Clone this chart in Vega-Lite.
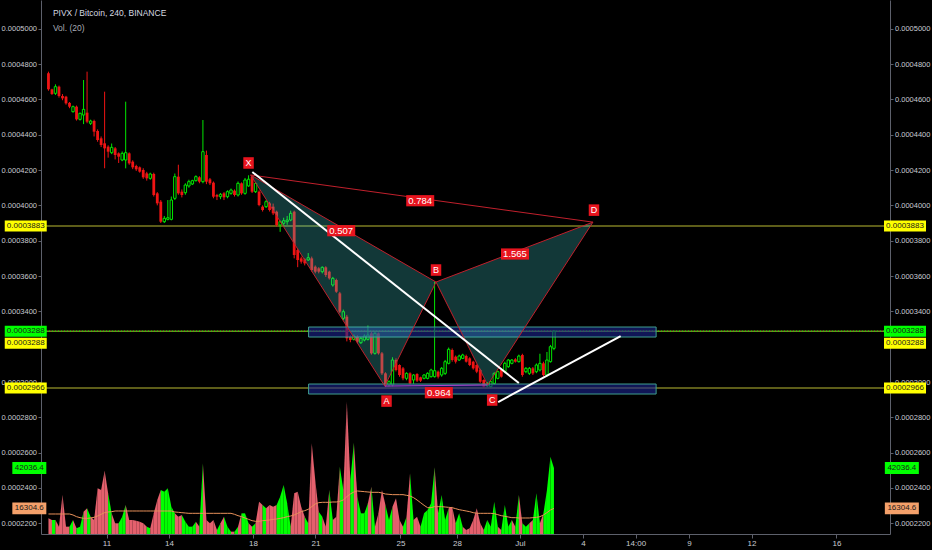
{
"$schema":"https://vega.github.io/schema/vega-lite/v6.json",
"width":849,"height":534,
"autosize":{"type":"none"},
"padding":{"left":41,"right":42,"top":0,"bottom":16},
"background":"#000000",
"config":{"view":{"stroke":null},"font":"Liberation Sans"},
"datasets":{
"candles":[
{"i":0,"o":47473,"h":47568,"l":46490,"c":46567,"v":9978,"ma":12738},
{"i":1,"o":46567,"h":46600,"l":46250,"c":46303,"v":8917,"ma":12738},
{"i":2,"o":46341,"h":46850,"l":46250,"c":46718,"v":8917,"ma":12738},
{"i":3,"o":46718,"h":46780,"l":46100,"c":46190,"v":4671,"ma":12738},
{"i":4,"o":46190,"h":46300,"l":45950,"c":46058,"v":24839,"ma":12738},
{"i":5,"o":46152,"h":46200,"l":45700,"c":45775,"v":4671,"ma":12738},
{"i":6,"o":45800,"h":45850,"l":45500,"c":45586,"v":4671,"ma":12738},
{"i":7,"o":45303,"h":45650,"l":45250,"c":45586,"v":8917,"ma":12101},
{"i":8,"o":45586,"h":45650,"l":44800,"c":44869,"v":3609,"ma":11040},
{"i":9,"o":44869,"h":45250,"l":44800,"c":45209,"v":4671,"ma":10403},
{"i":10,"o":45114,"h":47096,"l":44600,"c":45435,"v":14224,"ma":9978},
{"i":11,"o":45247,"h":47568,"l":44650,"c":44737,"v":16347,"ma":9978},
{"i":12,"o":44643,"h":44850,"l":44550,"c":44775,"v":11040,"ma":10190},
{"i":13,"o":44775,"h":44850,"l":43900,"c":44171,"v":8917,"ma":10615},
{"i":14,"o":44209,"h":44300,"l":43600,"c":43699,"v":29085,"ma":11464},
{"i":15,"o":43794,"h":43900,"l":43300,"c":43416,"v":28024,"ma":12526},
{"i":16,"o":43511,"h":46435,"l":42100,"c":43227,"v":40337,"ma":13587},
{"i":17,"o":43322,"h":43400,"l":42700,"c":43039,"v":25901,"ma":14012},
{"i":18,"o":42982,"h":43500,"l":42900,"c":43284,"v":13163,"ma":14224},
{"i":19,"o":43227,"h":43300,"l":42600,"c":42850,"v":6794,"ma":14649},
{"i":20,"o":42944,"h":43000,"l":42400,"c":42756,"v":6794,"ma":14649},
{"i":21,"o":42567,"h":43050,"l":42500,"c":42944,"v":11040,"ma":14649},
{"i":22,"o":42567,"h":45869,"l":42095,"c":42982,"v":18470,"ma":14649},
{"i":23,"o":42944,"h":43000,"l":42300,"c":42378,"v":8917,"ma":14649},
{"i":24,"o":42473,"h":42550,"l":42050,"c":42152,"v":8917,"ma":14649},
{"i":25,"o":42227,"h":42300,"l":41950,"c":42039,"v":8492,"ma":14649},
{"i":26,"o":42152,"h":42200,"l":41850,"c":41907,"v":7855,"ma":14649},
{"i":27,"o":42001,"h":42100,"l":41500,"c":41586,"v":6794,"ma":14649},
{"i":28,"o":41812,"h":41900,"l":41400,"c":41529,"v":4671,"ma":14649},
{"i":29,"o":41529,"h":41850,"l":41450,"c":41774,"v":3609,"ma":14649},
{"i":30,"o":41774,"h":41850,"l":40500,"c":40586,"v":13163,"ma":14649},
{"i":31,"o":40680,"h":40750,"l":40000,"c":40114,"v":21655,"ma":14649},
{"i":32,"o":40208,"h":40300,"l":39000,"c":39076,"v":28024,"ma":14649},
{"i":33,"o":39076,"h":39400,"l":39000,"c":39265,"v":26962,"ma":14649},
{"i":34,"o":39208,"h":40300,"l":39150,"c":39300,"v":29085,"ma":14649},
{"i":35,"o":39208,"h":40500,"l":39150,"c":40303,"v":17409,"ma":14649},
{"i":36,"o":40397,"h":41800,"l":40300,"c":41624,"v":13163,"ma":14012},
{"i":37,"o":41624,"h":42300,"l":40600,"c":40680,"v":11040,"ma":13800},
{"i":38,"o":40774,"h":40900,"l":40450,"c":40586,"v":12101,"ma":13587},
{"i":39,"o":40718,"h":41250,"l":40600,"c":41152,"v":7855,"ma":13375},
{"i":40,"o":41095,"h":41450,"l":41000,"c":41341,"v":4671,"ma":13163},
{"i":41,"o":41209,"h":41450,"l":41150,"c":41397,"v":4671,"ma":13163},
{"i":42,"o":41397,"h":41700,"l":41350,"c":41624,"v":7855,"ma":13163},
{"i":43,"o":41586,"h":41650,"l":41250,"c":41341,"v":4671,"ma":13163},
{"i":44,"o":41341,"h":44831,"l":41250,"c":43039,"v":45008,"ma":13163},
{"i":45,"o":42850,"h":43100,"l":41200,"c":41341,"v":8917,"ma":13163},
{"i":46,"o":41473,"h":41550,"l":41150,"c":41247,"v":6794,"ma":13163},
{"i":47,"o":41284,"h":41350,"l":40400,"c":40491,"v":8917,"ma":13163},
{"i":48,"o":40586,"h":40650,"l":40300,"c":40491,"v":2548,"ma":13163},
{"i":49,"o":40491,"h":40700,"l":40350,"c":40623,"v":6794,"ma":13163},
{"i":50,"o":40680,"h":40750,"l":40300,"c":40454,"v":11040,"ma":13163},
{"i":51,"o":40491,"h":40850,"l":40400,"c":40774,"v":4671,"ma":13163},
{"i":52,"o":40680,"h":40950,"l":40600,"c":40869,"v":1486,"ma":13163},
{"i":53,"o":40830,"h":40900,"l":40500,"c":40586,"v":1486,"ma":12526},
{"i":54,"o":40586,"h":41350,"l":40500,"c":41247,"v":4671,"ma":11677},
{"i":55,"o":41247,"h":41300,"l":40600,"c":40680,"v":13163,"ma":11040},
{"i":56,"o":40680,"h":41550,"l":40600,"c":41435,"v":13163,"ma":10190},
{"i":57,"o":41100,"h":41700,"l":41050,"c":41480,"v":6794,"ma":9341},
{"i":58,"o":41624,"h":41720,"l":40700,"c":40774,"v":4671,"ma":8492},
{"i":59,"o":40774,"h":41300,"l":40700,"c":41246,"v":6794,"ma":8067},
{"i":60,"o":40774,"h":40850,"l":39950,"c":40019,"v":20593,"ma":8067},
{"i":61,"o":39925,"h":40000,"l":39650,"c":39737,"v":18470,"ma":8492},
{"i":62,"o":39925,"h":40300,"l":39850,"c":40208,"v":16347,"ma":8704},
{"i":63,"o":40114,"h":40200,"l":39650,"c":39737,"v":18470,"ma":8917},
{"i":64,"o":39925,"h":40100,"l":39450,"c":39548,"v":17409,"ma":9341},
{"i":65,"o":39642,"h":39700,"l":38800,"c":38887,"v":18470,"ma":9554},
{"i":66,"o":38887,"h":39150,"l":38500,"c":39076,"v":23778,"ma":9978},
{"i":67,"o":38982,"h":39300,"l":38800,"c":39133,"v":31208,"ma":10403},
{"i":68,"o":39076,"h":39400,"l":38900,"c":39170,"v":19532,"ma":11040},
{"i":69,"o":39170,"h":39700,"l":39100,"c":39548,"v":4671,"ma":11464},
{"i":70,"o":39642,"h":39700,"l":37000,"c":37189,"v":25901,"ma":12101},
{"i":71,"o":37472,"h":37550,"l":36500,"c":36906,"v":26962,"ma":13163},
{"i":72,"o":37000,"h":37100,"l":36700,"c":36812,"v":17409,"ma":14224},
{"i":73,"o":36944,"h":37000,"l":36600,"c":36717,"v":11040,"ma":14861},
{"i":74,"o":36906,"h":37300,"l":36850,"c":37038,"v":6794,"ma":15710},
{"i":75,"o":37000,"h":37100,"l":36250,"c":36340,"v":57746,"ma":17409},
{"i":76,"o":36529,"h":36600,"l":36150,"c":36246,"v":34393,"ma":19107},
{"i":77,"o":36434,"h":36500,"l":36150,"c":36246,"v":14224,"ma":19956},
{"i":78,"o":36246,"h":36550,"l":36150,"c":36491,"v":11040,"ma":20169},
{"i":79,"o":36491,"h":36550,"l":35950,"c":36057,"v":4671,"ma":20169},
{"i":80,"o":36246,"h":36300,"l":35800,"c":35868,"v":28024,"ma":20169},
{"i":81,"o":35491,"h":35950,"l":35400,"c":35868,"v":8917,"ma":20381},
{"i":82,"o":35774,"h":35850,"l":35050,"c":35113,"v":11040,"ma":20381},
{"i":83,"o":35019,"h":35100,"l":33900,"c":33981,"v":42885,"ma":20805},
{"i":84,"o":33604,"h":34100,"l":33500,"c":33981,"v":28024,"ma":21655},
{"i":85,"o":33698,"h":33800,"l":32300,"c":32471,"v":84283,"ma":23778},
{"i":86,"o":32566,"h":32650,"l":32250,"c":32377,"v":34393,"ma":25476},
{"i":87,"o":32415,"h":32700,"l":32350,"c":32604,"v":58170,"ma":26750},
{"i":88,"o":32566,"h":32650,"l":32200,"c":32283,"v":23778,"ma":27387},
{"i":89,"o":32226,"h":32550,"l":32150,"c":32471,"v":13163,"ma":27174},
{"i":90,"o":32377,"h":32700,"l":32300,"c":32604,"v":13163,"ma":26962},
{"i":91,"o":32415,"h":33200,"l":32350,"c":32660,"v":19532,"ma":26750},
{"i":92,"o":32754,"h":32850,"l":31550,"c":31622,"v":30147,"ma":26538},
{"i":93,"o":31622,"h":32850,"l":31550,"c":32754,"v":4671,"ma":26538},
{"i":94,"o":32754,"h":32800,"l":31550,"c":31622,"v":13163,"ma":26538},
{"i":95,"o":31622,"h":31700,"l":30400,"c":30490,"v":28024,"ma":26113},
{"i":96,"o":30490,"h":30550,"l":29700,"c":29773,"v":18470,"ma":25476},
{"i":97,"o":29830,"h":30100,"l":29750,"c":30018,"v":8917,"ma":25264},
{"i":98,"o":29830,"h":31400,"l":29750,"c":31245,"v":17409,"ma":25051},
{"i":99,"o":31245,"h":31340,"l":30600,"c":30679,"v":22716,"ma":25051},
{"i":100,"o":30962,"h":31000,"l":30300,"c":30396,"v":8917,"ma":25051},
{"i":101,"o":30773,"h":30850,"l":30100,"c":30207,"v":4671,"ma":25051},
{"i":102,"o":30207,"h":30550,"l":30100,"c":30490,"v":11040,"ma":24627},
{"i":103,"o":30490,"h":30550,"l":29850,"c":29924,"v":38639,"ma":24202},
{"i":104,"o":30113,"h":30450,"l":29900,"c":30396,"v":8917,"ma":23141},
{"i":105,"o":30452,"h":30500,"l":30000,"c":30075,"v":11040,"ma":21655},
{"i":106,"o":30264,"h":30300,"l":30000,"c":30075,"v":4671,"ma":19956},
{"i":107,"o":30207,"h":30450,"l":30150,"c":30396,"v":13163,"ma":18258},
{"i":108,"o":30207,"h":30550,"l":30150,"c":30490,"v":15286,"ma":16772},
{"i":109,"o":30302,"h":30750,"l":30250,"c":30679,"v":19532,"ma":16772},
{"i":110,"o":30302,"h":35679,"l":30250,"c":30640,"v":42460,"ma":17409},
{"i":111,"o":30585,"h":30650,"l":30200,"c":30302,"v":13163,"ma":17409},
{"i":112,"o":30396,"h":30850,"l":30300,"c":30773,"v":24839,"ma":17409},
{"i":113,"o":30490,"h":31250,"l":30400,"c":31151,"v":8917,"ma":17196},
{"i":114,"o":31056,"h":31950,"l":31000,"c":31849,"v":16347,"ma":16984},
{"i":115,"o":31811,"h":31900,"l":31150,"c":31245,"v":17409,"ma":16772},
{"i":116,"o":31434,"h":31500,"l":31050,"c":31151,"v":6794,"ma":16135},
{"i":117,"o":31245,"h":31550,"l":31200,"c":31471,"v":13163,"ma":15498},
{"i":118,"o":31339,"h":31600,"l":31300,"c":31528,"v":4671,"ma":15073},
{"i":119,"o":31471,"h":31550,"l":31100,"c":31151,"v":2548,"ma":14649},
{"i":120,"o":31339,"h":31400,"l":30900,"c":30962,"v":3609,"ma":14224},
{"i":121,"o":31151,"h":31200,"l":30700,"c":30773,"v":8917,"ma":13587},
{"i":122,"o":30962,"h":31000,"l":30500,"c":30585,"v":16347,"ma":13163},
{"i":123,"o":30679,"h":30750,"l":29950,"c":30018,"v":6794,"ma":13163},
{"i":124,"o":30113,"h":30150,"l":29650,"c":29735,"v":2548,"ma":13163},
{"i":125,"o":29780,"h":30000,"l":29700,"c":29924,"v":8917,"ma":13163},
{"i":126,"o":29735,"h":30100,"l":29700,"c":30018,"v":4671,"ma":13163},
{"i":127,"o":29924,"h":30550,"l":29850,"c":30490,"v":20593,"ma":12950},
{"i":128,"o":30207,"h":30650,"l":30150,"c":30585,"v":4671,"ma":12313},
{"i":129,"o":30679,"h":30750,"l":30250,"c":30302,"v":2548,"ma":11677},
{"i":130,"o":30585,"h":31150,"l":30500,"c":31056,"v":18470,"ma":11252},
{"i":131,"o":30868,"h":31300,"l":30800,"c":31245,"v":4671,"ma":10827},
{"i":132,"o":31056,"h":31300,"l":31000,"c":31245,"v":8917,"ma":10403},
{"i":133,"o":31283,"h":31350,"l":31100,"c":31151,"v":4671,"ma":10403},
{"i":134,"o":31151,"h":31550,"l":31100,"c":31471,"v":24839,"ma":10190},
{"i":135,"o":31528,"h":31600,"l":30300,"c":30396,"v":6794,"ma":10190},
{"i":136,"o":30585,"h":30850,"l":30500,"c":30773,"v":4671,"ma":10190},
{"i":137,"o":30490,"h":30850,"l":30400,"c":30773,"v":6794,"ma":10190},
{"i":138,"o":30773,"h":30850,"l":30400,"c":30490,"v":8917,"ma":10403},
{"i":139,"o":30585,"h":31050,"l":30500,"c":30962,"v":25901,"ma":10615},
{"i":140,"o":30679,"h":31600,"l":30600,"c":31056,"v":6794,"ma":11040},
{"i":141,"o":31056,"h":31150,"l":30300,"c":30396,"v":13163,"ma":12101},
{"i":142,"o":30396,"h":31700,"l":30300,"c":31245,"v":28024,"ma":13587},
{"i":143,"o":31151,"h":32100,"l":31100,"c":32000,"v":49254,"ma":15286},
{"i":144,"o":31905,"h":32900,"l":31800,"c":32880,"v":42036.4,"ma":16304.6}
],
"hlines":[{"p":38830},{"p":29660},{"p":32880}],
"boxes":[{"i":74.1,"i2":173.1,"p":33113,"p2":32547},{"i":74.1,"i2":173.1,"p":29886,"p2":29320}],
"poly":[
{"g":"XAB","k":0,"i":57.6,"p":41720},{"g":"XAB","k":1,"i":95.8,"p":29770},{"g":"XAB","k":2,"i":110.4,"p":35660},{"g":"XAB","k":3,"i":57.6,"p":41720},
{"g":"BCD","k":0,"i":110.4,"p":35660},{"g":"BCD","k":1,"i":125.1,"p":29830},{"g":"BCD","k":2,"i":155.1,"p":39050},{"g":"BCD","k":3,"i":110.4,"p":35660}
],
"legs":[{"g":"XD","k":0,"i":57.6,"p":41720},{"g":"XD","k":1,"i":155.1,"p":39050},{"g":"AC","k":0,"i":95.8,"p":29770},{"g":"AC","k":1,"i":125.1,"p":29830}],
"trend":[{"g":1,"i":58.07,"p":41888},{"g":1,"i":134.0,"p":29943},{"g":2,"i":128.1,"p":28868},{"g":2,"i":163.0,"p":32604}],
"points":[{"pt":"X","i":57.0,"p":41720,"pos":"up"},{"pt":"A","i":96.3,"p":29770,"pos":"dn"},{"pt":"B","i":110.4,"p":35660,"pos":"up"},{"pt":"C","i":126.4,"p":29830,"pos":"dn"},{"pt":"D","i":155.4,"p":39050,"pos":"up"}],
"ratios":[{"t":"0.507","i":83.4,"p":38565},{"t":"0.784","i":105.9,"p":40263},{"t":"1.565","i":132.9,"p":37246},{"t":"0.964","i":111.2,"p":29394}],
"ptags":[
{"i":-6.47,"p":38830,"t":"0.0003883","k":"y"},{"i":-6.47,"p":32880,"t":"0.0003288","k":"g"},{"i":-6.47,"p":32880,"t":"0.0003288","k":"y2"},{"i":-6.47,"p":29660,"t":"0.0002966","k":"y"},
{"i":244.0,"p":38830,"t":"0.0003883","k":"y"},{"i":244.0,"p":32880,"t":"0.0003288","k":"g"},{"i":244.0,"p":32880,"t":"0.0003288","k":"y2"},{"i":244.0,"p":29660,"t":"0.0002966","k":"y"}
],
"vtags":[{"i":-5.45,"v":42036.4,"t":"42036.4","k":"g"},{"i":-5.45,"v":16304.6,"t":"16304.6","k":"o"},{"i":243.1,"v":42036.4,"t":"42036.4","k":"g"},{"i":243.1,"v":16304.6,"t":"16304.6","k":"o"}],
"titles":[{"i":1.27,"p":50889,"t":"PIVX / Bitcoin, 240, BINANCE"},{"i":1.27,"p":50040,"t":"Vol. (20)"}]
},
"layer":[
{
"layer":[
{"data":{"name":"candles"},
"transform":[
{"window":[{"op":"lag","field":"i","as":"ip"},{"op":"lead","field":"o","as":"o2"},{"op":"lead","field":"c","as":"c2"}],"sort":[{"field":"i","order":"ascending"}]},
{"fold":["i","ip"],"as":["role","seg"]},
{"filter":"datum.seg != null"}
],
"mark":{"type":"area","opacity":1},
"encoding":{
"x":{"field":"i","type":"quantitative","scale":{"domain":[-0.7,238.3],"nice":false,"zero":false}},
"y":{"field":"v","type":"quantitative","stack":null,"scale":{"domain":[0,340000],"nice":false,"zero":false},"axis":null},
"detail":{"field":"seg","type":"nominal"},
"color":{"condition":{"test":"datum.role=='i' ? datum.c2>=datum.o2 : datum.c>=datum.o","value":"#00ff00"},"value":"#e4606d"}
}},
{"data":{"name":"candles"},
"mark":{"type":"line","color":"#e8915a","strokeWidth":1},
"encoding":{
"x":{"field":"i","type":"quantitative","scale":{"domain":[-0.7,238.3],"nice":false,"zero":false}},
"y":{"field":"ma","type":"quantitative","scale":{"domain":[0,340000],"nice":false,"zero":false},"axis":null}
}},
{"data":{"name":"vtags"},
"mark":{"type":"point","shape":"M-1,-0.35H1V0.35H-1Z","size":1156,"filled":true,"opacity":1,"strokeWidth":0},
"encoding":{
"x":{"field":"i","type":"quantitative","scale":{"domain":[-0.7,238.3],"nice":false,"zero":false}},
"y":{"field":"v","type":"quantitative","scale":{"domain":[0,340000],"nice":false,"zero":false},"axis":null},
"color":{"condition":{"test":"datum.k=='g'","value":"#00ff00"},"value":"#f4a06a"}
}},
{"data":{"name":"vtags"},
"mark":{"type":"text","fontSize":8,"color":"#1a1a1a","align":"center","baseline":"middle"},
"encoding":{
"x":{"field":"i","type":"quantitative","scale":{"domain":[-0.7,238.3],"nice":false,"zero":false}},
"y":{"field":"v","type":"quantitative","scale":{"domain":[0,340000],"nice":false,"zero":false},"axis":null},
"text":{"field":"t"}
}}
]
},
{
"layer":[
{"data":{"name":"hlines"},
"mark":{"type":"rule","color":"#7d7d22","strokeWidth":1.5},
"encoding":{
"y":{"field":"p","type":"quantitative","scale":{"domain":[21396,51625],"nice":false,"zero":false},"axis":null}
}},
{"data":{"values":[{"p":32880}]},
"mark":{"type":"rule","color":"#00ff00","strokeWidth":1,"strokeDash":[1,2]},
"encoding":{
"y":{"field":"p","type":"quantitative","scale":{"domain":[21396,51625],"nice":false,"zero":false},"axis":null}
}},
{"data":{"name":"candles"},
"mark":{"type":"rule","strokeWidth":1},
"encoding":{
"x":{"field":"i","type":"quantitative","scale":{"domain":[-0.7,238.3],"nice":false,"zero":false}},
"y":{"field":"l","type":"quantitative","scale":{"domain":[21396,51625],"nice":false,"zero":false},"axis":null},
"y2":{"field":"h"},
"color":{"condition":{"test":"datum.c>=datum.o","value":"#00e600"},"value":"#f01414"}
}},
{"data":{"name":"candles"},
"transform":[{"filter":"datum.c<datum.o"}],
"mark":{"type":"bar","width":2.8,"color":"#f01414"},
"encoding":{
"x":{"field":"i","type":"quantitative","scale":{"domain":[-0.7,238.3],"nice":false,"zero":false}},
"y":{"field":"o","type":"quantitative","scale":{"domain":[21396,51625],"nice":false,"zero":false},"axis":null},
"y2":{"field":"c"}
}},
{"data":{"name":"candles"},
"transform":[{"filter":"datum.c>=datum.o"}],
"mark":{"type":"bar","width":2.4,"fill":"#000000","stroke":"#00e600","strokeWidth":1},
"encoding":{
"x":{"field":"i","type":"quantitative","scale":{"domain":[-0.7,238.3],"nice":false,"zero":false}},
"y":{"field":"o","type":"quantitative","scale":{"domain":[21396,51625],"nice":false,"zero":false},"axis":null},
"y2":{"field":"c"}
}},
{"data":{"name":"boxes"},
"mark":{"type":"rect","fill":"#1a2590","fillOpacity":0.6,"stroke":"#3f9f8f","strokeWidth":1},
"encoding":{
"x":{"field":"i","type":"quantitative","scale":{"domain":[-0.7,238.3],"nice":false,"zero":false}},
"x2":{"field":"i2"},
"y":{"field":"p","type":"quantitative","scale":{"domain":[21396,51625],"nice":false,"zero":false},"axis":null},
"y2":{"field":"p2"}
}},
{"data":{"name":"poly"},
"mark":{"type":"line","fill":"#3fc8c8","fillOpacity":0.28,"stroke":"#c0202c","strokeWidth":1},
"encoding":{
"x":{"field":"i","type":"quantitative","scale":{"domain":[-0.7,238.3],"nice":false,"zero":false}},
"y":{"field":"p","type":"quantitative","scale":{"domain":[21396,51625],"nice":false,"zero":false},"axis":null},
"detail":{"field":"g","type":"nominal"},
"order":{"field":"k","type":"quantitative"}
}},
{"data":{"name":"legs"},
"mark":{"type":"line","strokeWidth":1},
"encoding":{
"x":{"field":"i","type":"quantitative","scale":{"domain":[-0.7,238.3],"nice":false,"zero":false}},
"y":{"field":"p","type":"quantitative","scale":{"domain":[21396,51625],"nice":false,"zero":false},"axis":null},
"color":{"field":"g","type":"nominal","scale":{"domain":["XD","AC"],"range":["#c0202c","#b048d0"]},"legend":null},
"order":{"field":"k","type":"quantitative"}
}},
{"data":{"name":"trend"},
"mark":{"type":"line","color":"#ffffff","strokeWidth":2},
"encoding":{
"x":{"field":"i","type":"quantitative","scale":{"domain":[-0.7,238.3],"nice":false,"zero":false}},
"y":{"field":"p","type":"quantitative","scale":{"domain":[21396,51625],"nice":false,"zero":false},"axis":null},
"detail":{"field":"g","type":"nominal"}
}},
{"data":{"name":"points"},
"transform":[{"filter":"datum.pos=='up'"}],
"mark":{"type":"point","shape":"M-1,-1.1H1V1.1H-1Z","size":110,"filled":true,"opacity":1,"color":"#e8141e","strokeWidth":0,"yOffset":-12},
"encoding":{
"x":{"field":"i","type":"quantitative","scale":{"domain":[-0.7,238.3],"nice":false,"zero":false}},
"y":{"field":"p","type":"quantitative","scale":{"domain":[21396,51625],"nice":false,"zero":false},"axis":null}
}},
{"data":{"name":"points"},
"transform":[{"filter":"datum.pos=='up'"}],
"mark":{"type":"text","fontSize":9,"color":"#ffffff","align":"center","baseline":"middle","yOffset":-12},
"encoding":{
"x":{"field":"i","type":"quantitative","scale":{"domain":[-0.7,238.3],"nice":false,"zero":false}},
"y":{"field":"p","type":"quantitative","scale":{"domain":[21396,51625],"nice":false,"zero":false},"axis":null},
"text":{"field":"pt"}
}},
{"data":{"name":"points"},
"transform":[{"filter":"datum.pos=='dn'"}],
"mark":{"type":"point","shape":"M-1,-1.1H1V1.1H-1Z","size":110,"filled":true,"opacity":1,"color":"#e8141e","strokeWidth":0,"yOffset":15},
"encoding":{
"x":{"field":"i","type":"quantitative","scale":{"domain":[-0.7,238.3],"nice":false,"zero":false}},
"y":{"field":"p","type":"quantitative","scale":{"domain":[21396,51625],"nice":false,"zero":false},"axis":null}
}},
{"data":{"name":"points"},
"transform":[{"filter":"datum.pos=='dn'"}],
"mark":{"type":"text","fontSize":9,"color":"#ffffff","align":"center","baseline":"middle","yOffset":15},
"encoding":{
"x":{"field":"i","type":"quantitative","scale":{"domain":[-0.7,238.3],"nice":false,"zero":false}},
"y":{"field":"p","type":"quantitative","scale":{"domain":[21396,51625],"nice":false,"zero":false},"axis":null},
"text":{"field":"pt"}
}},
{"data":{"name":"ratios"},
"mark":{"type":"point","shape":"M-1,-0.4H1V0.4H-1Z","size":784,"filled":true,"opacity":1,"color":"#e8141e","strokeWidth":0},
"encoding":{
"x":{"field":"i","type":"quantitative","scale":{"domain":[-0.7,238.3],"nice":false,"zero":false}},
"y":{"field":"p","type":"quantitative","scale":{"domain":[21396,51625],"nice":false,"zero":false},"axis":null}
}},
{"data":{"name":"ratios"},
"mark":{"type":"text","fontSize":9.5,"color":"#ffffff","align":"center","baseline":"middle"},
"encoding":{
"x":{"field":"i","type":"quantitative","scale":{"domain":[-0.7,238.3],"nice":false,"zero":false}},
"y":{"field":"p","type":"quantitative","scale":{"domain":[21396,51625],"nice":false,"zero":false},"axis":null},
"text":{"field":"t"}
}},
{"data":{"name":"ptags"},
"transform":[{"filter":"datum.k!='y2'"}],
"mark":{"type":"point","shape":"M-1,-0.262H1V0.262H-1Z","size":1764,"filled":true,"opacity":1,"strokeWidth":0},
"encoding":{
"x":{"field":"i","type":"quantitative","scale":{"domain":[-0.7,238.3],"nice":false,"zero":false}},
"y":{"field":"p","type":"quantitative","scale":{"domain":[21396,51625],"nice":false,"zero":false},"axis":null},
"color":{"condition":{"test":"datum.k=='g'","value":"#00ff00"},"value":"#ffff00"}
}},
{"data":{"name":"ptags"},
"transform":[{"filter":"datum.k!='y2'"}],
"mark":{"type":"text","fontSize":8,"color":"#1a1a1a","align":"center","baseline":"middle"},
"encoding":{
"x":{"field":"i","type":"quantitative","scale":{"domain":[-0.7,238.3],"nice":false,"zero":false}},
"y":{"field":"p","type":"quantitative","scale":{"domain":[21396,51625],"nice":false,"zero":false},"axis":null},
"text":{"field":"t"}
}},
{"data":{"name":"ptags"},
"transform":[{"filter":"datum.k=='y2'"}],
"mark":{"type":"point","shape":"M-1,-0.262H1V0.262H-1Z","size":1764,"filled":true,"opacity":1,"strokeWidth":0,"color":"#ffff00","yOffset":12},
"encoding":{
"x":{"field":"i","type":"quantitative","scale":{"domain":[-0.7,238.3],"nice":false,"zero":false}},
"y":{"field":"p","type":"quantitative","scale":{"domain":[21396,51625],"nice":false,"zero":false},"axis":null}
}},
{"data":{"name":"ptags"},
"transform":[{"filter":"datum.k=='y2'"}],
"mark":{"type":"text","fontSize":8,"color":"#1a1a1a","align":"center","baseline":"middle","yOffset":12},
"encoding":{
"x":{"field":"i","type":"quantitative","scale":{"domain":[-0.7,238.3],"nice":false,"zero":false}},
"y":{"field":"p","type":"quantitative","scale":{"domain":[21396,51625],"nice":false,"zero":false},"axis":null},
"text":{"field":"t"}
}},
{"data":{"name":"titles"},
"mark":{"type":"text","fontSize":8.5,"align":"left","baseline":"middle"},
"encoding":{
"x":{"field":"i","type":"quantitative","scale":{"domain":[-0.7,238.3],"nice":false,"zero":false}},
"y":{"field":"p","type":"quantitative","scale":{"domain":[21396,51625],"nice":false,"zero":false},"axis":null},
"text":{"field":"t"},
"color":{"condition":{"test":"datum.t=='Vol. (20)'","value":"#a8abb4"},"value":"#d6d9e0"}
}}
]
},
{"data":{"values":[{"i":0,"p":30000}]},
"mark":{"type":"point","opacity":0},
"encoding":{
"x":{"field":"i","type":"quantitative","scale":{"domain":[-0.7,238.3],"nice":false,"zero":false},
"axis":{"orient":"bottom","values":[16.54,34.36,58.27,76.07,100.25,116.37,134.28,152.28,167.26,182.45,200.28,224.46],"labelExpr":"datum.value<20?'11':datum.value<40?'14':datum.value<60?'18':datum.value<80?'21':datum.value<105?'25':datum.value<120?'28':datum.value<140?'Jul':datum.value<160?'4':datum.value<175?'14:00':datum.value<190?'9':datum.value<210?'12':'16'","title":null,"grid":false,"tickSize":4,"domainColor":"#5d606b","tickColor":"#5d606b","labelColor":"#c8cbd2","labelFontSize":8,"labelPadding":1,"labelFlush":false,"labelOverlap":false}},
"y":{"field":"p","type":"quantitative","scale":{"domain":[21396,51625],"nice":false,"zero":false},
"axis":{"orient":"left","values":[22000,24000,26000,28000,30000,34000,36000,38000,40000,42000,44000,46000,48000,50000],"labelExpr":"format(datum.value/100000000,'.7f')","title":null,"grid":false,"tickSize":3,"domainColor":"#5d606b","tickColor":"#5d606b","labelColor":"#c8cbd2","labelFontSize":7.5,"labelPadding":1.5}}
}},
{"data":{"values":[{"i":0,"p":30000}]},
"mark":{"type":"point","opacity":0},
"encoding":{
"y":{"field":"p","type":"quantitative","scale":{"domain":[21396,51625],"nice":false,"zero":false},
"axis":{"orient":"right","values":[22000,24000,26000,28000,30000,34000,36000,38000,40000,42000,44000,46000,48000,50000],"labelExpr":"format(datum.value/100000000,'.7f')","title":null,"grid":false,"tickSize":3,"domainColor":"#5d606b","tickColor":"#5d606b","labelColor":"#c8cbd2","labelFontSize":7.5,"labelPadding":1.5}}
}}
],
"resolve":{"scale":{"y":"independent"}}
}
